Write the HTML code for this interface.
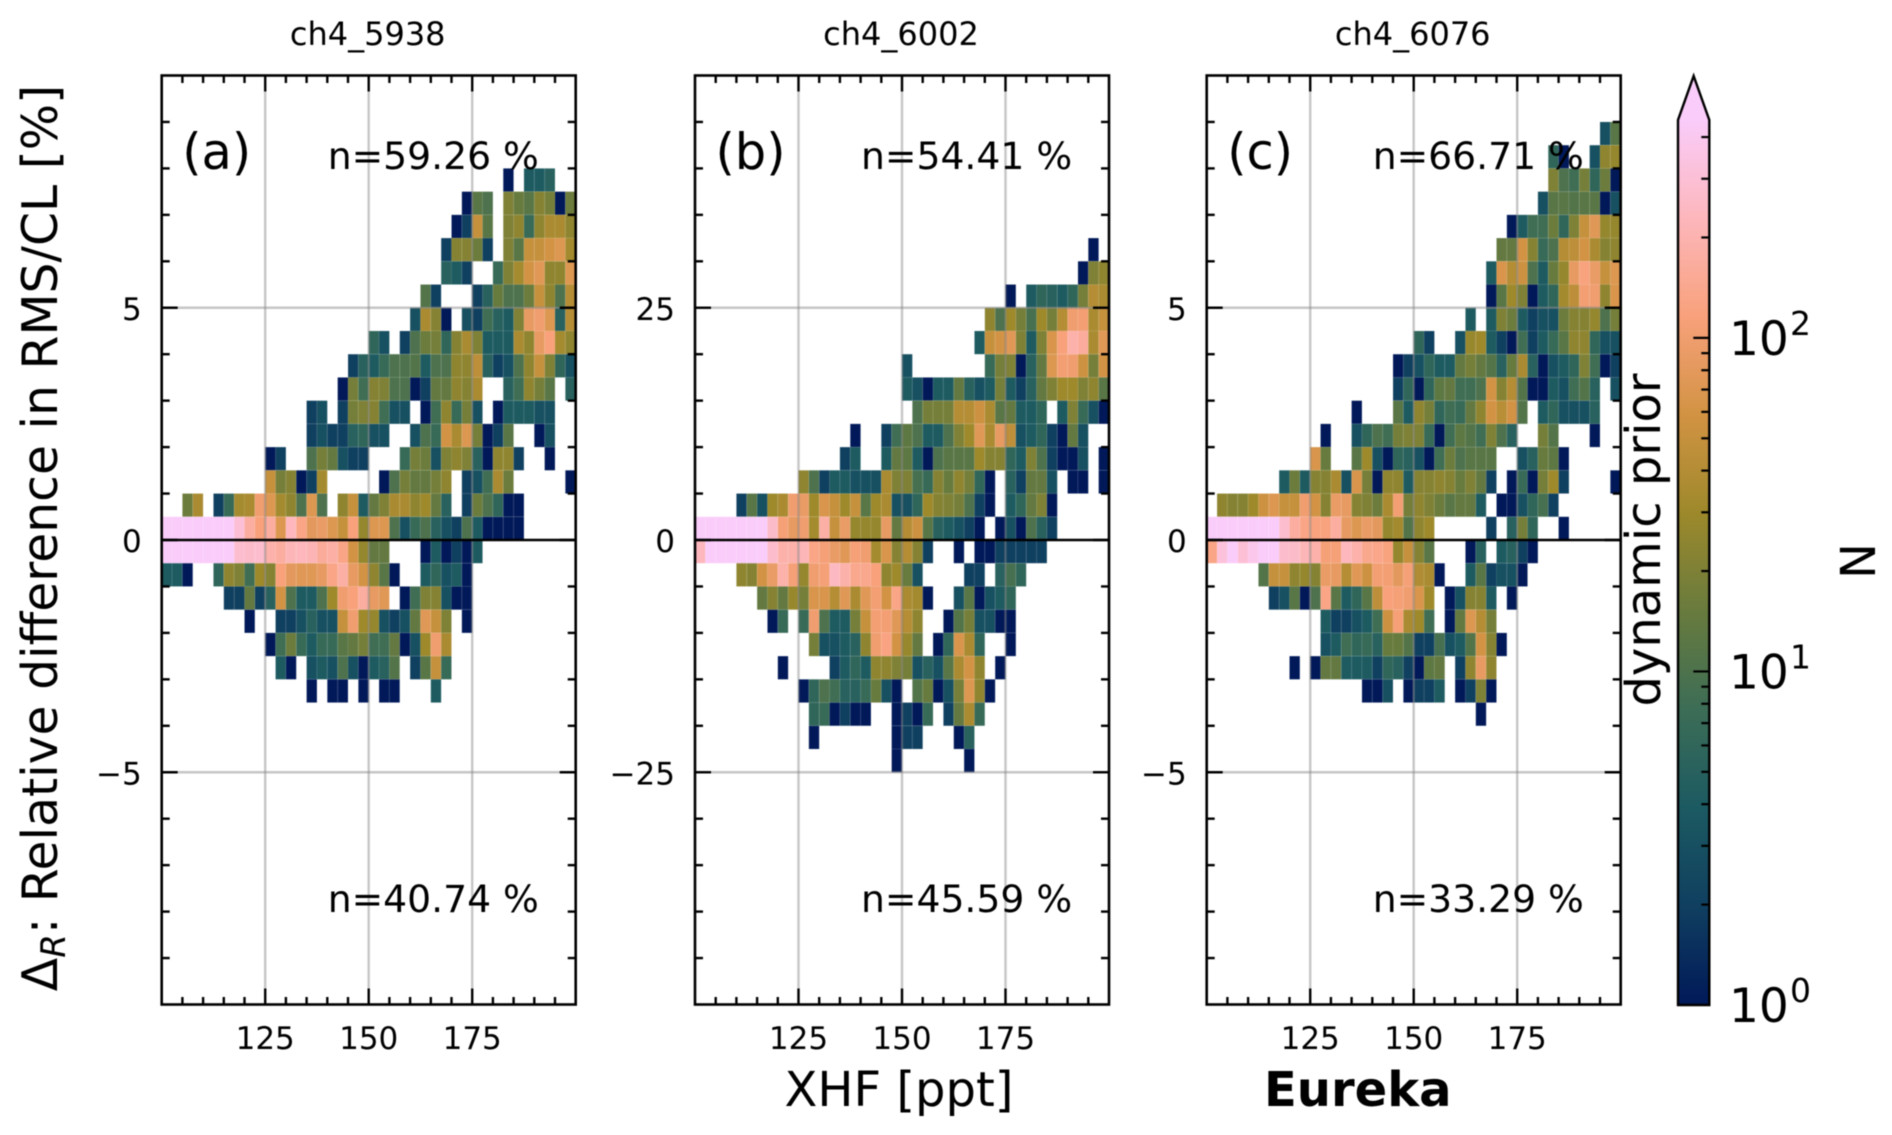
<!DOCTYPE html>
<html lang="en">
<head>
<meta charset="utf-8">
<title>Eureka XHF relative difference</title>
<style>
html,body{margin:0;padding:0;background:#fff;}
svg{display:block;font-family:"DejaVu Sans","Liberation Sans",sans-serif;filter:blur(0.5px);}
</style>
</head>
<body>
<svg id="fig" xmlns="http://www.w3.org/2000/svg" width="1892" height="1135" viewBox="0 0 1892 1135">
<rect x="0" y="0" width="1892" height="1135" fill="#fff"/>
<text x="0" y="0" transform="translate(57,538) rotate(-90)" text-anchor="middle" font-size="48.8" fill="#000" id="ylab">Δ<tspan font-size="34" font-style="italic" dy="8">R</tspan><tspan dy="-8">: Relative difference in RMS/CL [%]</tspan></text>
<text x="899" y="1106" text-anchor="middle" font-size="48" fill="#000">XHF [ppt]</text>
<text x="1264" y="1106" font-size="48" font-weight="700" fill="#000">Eureka</text>
<text transform="translate(1660,540) rotate(-90)" text-anchor="middle" font-size="48" fill="#000">dynamic prior</text>
<text transform="translate(1875,561) rotate(-90)" text-anchor="middle" font-size="48" fill="#000">N</text>
<g id="panels"></g>
<g id="cbar"></g>
</svg>
<script>
const panelTitles = ['ch4_5938', 'ch4_6002', 'ch4_6076'];
const panelLetters = ['(a)', '(b)', '(c)'];
const upperPct = ['n=59.26 %', 'n=54.41 %', 'n=66.71 %'];
const lowerPct = ['n=40.74 %', 'n=45.59 %', 'n=33.29 %'];
const yLimits = [10, 50, 10];
const yTickValues = [[-5, 0, 5], [-25, 0, 25], [-5, 0, 5]];
const yTickLabels = [['\u22125', '0', '5'], ['\u221225', '0', '25'], ['\u22125', '0', '5']];
const yMinorSteps = [1, 5, 1];
const yBinHeights = [0.5, 2.5, 0.5];
const yTopEdges = [8, 32.5, 9];
const xTickValues = [125, 150, 175];
const xTickLabels = ['125', '150', '175'];
const xMinorStep = 5;
const xMin = 100;
const xMax = 200;
const xBinWidth = 2.5;
const cbarMajor = [1, 10, 100];
const cbarMinor = [2, 3, 4, 5, 6, 7, 8, 9, 20, 30, 40, 50, 60, 70, 80, 90, 200, 300, 400];
const cbarMaxValue = 450;
const batlow = ['#011959', '#103F60', '#1C5A62', '#3C6D56', '#687B3E', '#9D892B', '#D29343', '#F8A17B', '#FDB7BC', '#FACCFA'];

const countsA = [
[0,0,0,0,0,0,0,0,0,0, 0,0,0,0,0,0,0,0,0,0, 0,0,0,0,0,0,0,0,0,0, 0,0,0,1,0,4,4,5,0,0],
[0,0,0,0,0,0,0,0,0,0, 0,0,0,0,0,0,0,0,0,0, 0,0,0,0,0,0,0,0,0,1, 12,10,0,20,15,12,22,18,1,16],
[0,0,0,0,0,0,0,0,0,0, 0,0,0,0,0,0,0,0,0,0, 0,0,0,0,0,0,0,0,1,2, 50,12,0,20,25,7,25,35,35,25],
[0,0,0,0,0,0,0,0,0,0, 0,0,0,0,0,0,0,0,0,0, 0,0,0,0,0,0,0,2,22,22, 16,2,0,20,12,50,50,60,70,32],
[0,0,0,0,0,0,0,0,0,0, 0,0,0,0,0,0,0,0,0,0, 0,0,0,0,0,0,0,5,4,2, 0,0,7,20,33,60,75,25,25,70],
[0,0,0,0,0,0,0,0,0,0, 0,0,0,0,0,0,0,0,0,0, 0,0,0,0,0,11,2,0,0,0, 2,5,15,10,10,16,50,25,10,40],
[0,0,0,0,0,0,0,0,0,0, 0,0,0,0,0,0,0,0,0,0, 0,0,0,0,3,35,22,1,0,3, 2,8,5,4,20,85,100,70,5,40],
[0,0,0,0,0,0,0,0,0,0, 0,0,0,0,0,0,0,0,0,0, 6,3,0,2,10,16,18,6,22,35, 20,4,4,4,35,25,85,115,33,25],
[0,0,0,0,0,0,0,0,0,0, 0,0,0,0,0,0,0,0,2,5, 4,7,10,10,11,4,10,10,25,25, 45,5,2,3,10,25,50,20,6,3],
[0,0,0,0,0,0,0,0,0,0, 0,0,0,0,0,0,0,1,18,8, 22,20,10,10,1,2,14,14,25,22, 35,0,0,5,8,25,18,12,0,5],
[0,0,0,0,0,0,0,0,0,0, 0,0,0,0,2,3,0,2,18,20, 22,8,3,3,0,1,8,25,7,18, 3,0,1,4,4,4,3,3,0,0],
[0,0,0,0,0,0,0,0,0,0, 0,0,0,0,2,3,2,2,5,6, 3,3,0,0,3,10,7,60,35,70, 18,1,2,12,0,0,1,3,0,0],
[0,0,0,0,0,0,0,0,0,0, 1,2,0,0,10,18,14,3,2,2, 0,0,0,7,18,16,3,20,25,20, 5,1,25,25,2,0,0,1,0,0],
[0,0,0,0,0,0,0,0,0,0, 50,18,22,1,2,33,0,0,0,0, 0,1,10,18,14,14,18,25,0,2, 3,8,35,16,0,0,0,0,0,1],
[0,0,16,35,0,2,7,33,35,100, 70,33,25,10,70,10,0,25,50,4, 14,20,35,35,25,30,14,5,0,2, 16,10,6,1,1,0,0,0,0,0],
[500,500,500,500,500,500,500,300,170,115, 170,70,230,130,80,90,70,50,115,27, 70,70,10,3,7,10,5,3,2,10, 4,1,1,1,1,0,0,0,0,0],
[500,500,500,500,500,500,500,280,260,280, 190,170,220,230,210,160,180,130,60,27, 14,14,0,0,0,1,4,1,2,1, 4,0,0,0,0,0,0,0,0,0],
[4,4,1,0,0,6,25,20,8,30, 22,115,80,75,75,85,130,180,85,60, 25,12,1,0,0,4,6,3,4,1, 0,0,0,0,0,0,0,0,0,0],
[0,0,0,0,0,0,2,2,14,2, 5,60,10,4,4,10,30,100,115,170, 85,75,0,1,8,20,22,3,1,1, 0,0,0,0,0,0,0,0,0,0],
[0,0,0,0,0,0,0,0,1,0, 0,2,2,3,5,3,3,50,100,30, 27,3,2,3,14,75,50,20,0,1, 0,0,0,0,0,0,0,0,0,0],
[0,0,0,0,0,0,0,0,0,0, 1,8,16,7,4,7,7,12,14,18, 8,8,14,1,3,30,100,35,0,0, 0,0,0,0,0,0,0,0,0,0],
[0,0,0,0,0,0,0,0,0,0, 0,4,1,0,3,4,3,10,3,1, 4,5,11,0,2,12,50,7,0,0, 0,0,0,0,0,0,0,0,0,0],
[0,0,0,0,0,0,0,0,0,0, 0,0,0,0,1,0,1,1,0,1, 0,1,1,0,0,0,4,0,0,0, 0,0,0,0,0,0,0,0,0,0]
];

const countsB = [
[0,0,0,0,0,0,0,0,0,0, 0,0,0,0,0,0,0,0,0,0, 0,0,0,0,0,0,0,0,0,0, 0,0,0,0,0,0,0,0,1,0],
[0,0,0,0,0,0,0,0,0,0, 0,0,0,0,0,0,0,0,0,0, 0,0,0,0,0,0,0,0,0,0, 0,0,0,0,0,0,0,1,20,25],
[0,0,0,0,0,0,0,0,0,0, 0,0,0,0,0,0,0,0,0,0, 0,0,0,0,0,0,0,0,0,0, 1,0,4,6,5,4,6,18,40,35],
[0,0,0,0,0,0,0,0,0,0, 0,0,0,0,0,0,0,0,0,0, 0,0,0,0,0,0,0,0,25,10, 30,18,9,30,18,40,100,105,35,50],
[0,0,0,0,0,0,0,0,0,0, 0,0,0,0,0,0,0,0,0,0, 0,0,0,0,0,0,0,4,50,60, 75,20,4,20,65,115,190,165,35,75],
[0,0,0,0,0,0,0,0,0,0, 0,0,0,0,0,0,0,0,0,0, 3,0,0,0,0,0,0,0,7,18, 20,1,5,14,70,105,100,55,18,60],
[0,0,0,0,0,0,0,0,0,0, 0,0,0,0,0,0,0,0,0,0, 4,3,1,4,4,14,5,3,4,18, 4,2,5,14,20,30,30,20,25,12],
[0,0,0,0,0,0,0,0,0,0, 0,0,0,0,0,0,0,0,0,0, 0,10,18,18,18,40,40,55,35,12, 14,4,4,6,0,4,20,7,3,1],
[0,0,0,0,0,0,0,0,0,0, 0,0,0,0,0,1,0,0,2,8, 13,10,4,4,10,20,30,75,35,85, 45,3,4,6,2,1,14,3,0,0],
[0,0,0,0,0,0,0,0,0,0, 0,0,0,0,2,4,0,0,4,14, 13,4,1,10,12,12,12,30,22,22, 6,4,20,10,2,1,1,3,0,1],
[0,0,0,0,0,0,0,0,0,0, 25,10,2,4,4,3,3,3,35,20, 20,9,7,22,15,25,18,6,1,0, 5,2,14,14,3,0,1,1,0,1],
[0,0,0,0,2,12,3,30,35,100, 90,30,65,50,30,50,12,30,35,3, 3,6,30,22,20,18,10,2,1,0, 4,6,14,20,1,0,0,0,0,0],
[500,500,500,500,500,500,500,260,110,85, 100,33,180,50,90,27,27,27,85,14, 40,55,12,5,4,3,2,1,0,1, 3,1,10,5,2,0,0,0,0,0],
[230,500,500,500,500,500,500,270,190,190, 220,130,110,90,75,110,100,33,65,22, 40,22,2,0,0,1,0,1,1,2, 2,2,2,2,0,0,0,0,0,0],
[0,0,0,0,25,22,60,90,190,110, 27,100,110,240,190,140,140,115,25,30, 15,3,0,0,0,0,2,2,0,5, 9,6,0,0,0,0,0,0,0,0],
[0,0,0,0,0,0,14,22,14,28, 18,65,65,40,75,35,75,105,60,130, 35,32,1,0,0,3,12,1,3,4, 6,0,0,0,0,0,0,0,0,0],
[0,0,0,0,0,0,0,1,7,0, 7,100,10,4,4,18,50,105,105,75, 40,25,0,0,1,11,18,3,3,1, 1,0,0,0,0,0,0,0,0,0],
[0,0,0,0,0,0,0,0,0,0, 0,18,3,3,4,5,25,100,125,60, 28,14,0,1,6,65,35,6,0,0, 1,0,0,0,0,0,0,0,0,0],
[0,0,0,0,0,0,0,0,1,0, 0,0,0,2,4,6,4,25,25,20, 18,3,5,3,12,35,60,25,0,1, 0,0,0,0,0,0,0,0,0,0],
[0,0,0,0,0,0,0,0,0,0, 1,6,10,8,5,5,7,15,3,1, 0,11,15,1,3,18,70,25,1,0, 0,0,0,0,0,0,0,0,0,0],
[0,0,0,0,0,0,0,0,0,0, 0,6,7,1,2,1,1,0,0,1, 2,1,7,0,2,14,35,7,0,0, 0,0,0,0,0,0,0,0,0,0],
[0,0,0,0,0,0,0,0,0,0, 0,1,0,0,0,0,0,0,0,1, 2,2,0,0,0,1,5,0,0,0, 0,0,0,0,0,0,0,0,0,0],
[0,0,0,0,0,0,0,0,0,0, 0,0,0,0,0,0,0,0,0,1, 0,0,0,0,0,0,1,0,0,0, 0,0,0,0,0,0,0,0,0,0]
];

const countsC = [
[0,0,0,0,0,0,0,0,0,0, 0,0,0,0,0,0,0,0,0,0, 0,0,0,0,0,0,0,0,0,0, 0,0,0,0,0,0,0,0,3,12],
[0,0,0,0,0,0,0,0,0,0, 0,0,0,0,0,0,0,0,0,0, 0,0,0,0,0,0,0,0,0,0, 0,0,0,6,1,0,0,3,25,27],
[0,0,0,0,0,0,0,0,0,0, 0,0,0,0,0,0,0,0,0,0, 0,0,0,0,0,0,0,0,0,0, 0,0,0,20,10,8,18,6,16,1],
[0,0,0,0,0,0,0,0,0,0, 0,0,0,0,0,0,0,0,0,0, 0,0,0,0,0,0,0,0,0,0, 0,0,3,12,12,11,12,12,1,3],
[0,0,0,0,0,0,0,0,0,0, 0,0,0,0,0,0,0,0,0,0, 0,0,0,0,0,0,0,0,0,1, 4,8,8,16,6,20,50,75,27,27],
[0,0,0,0,0,0,0,0,0,0, 0,0,0,0,0,0,0,0,0,0, 0,0,0,0,0,0,0,0,14,14, 60,22,7,10,40,45,60,35,22,25],
[0,0,0,0,0,0,0,0,0,0, 0,0,0,0,0,0,0,0,0,0, 0,0,0,0,0,0,0,4,65,40, 55,10,4,15,27,85,120,90,50,70],
[0,0,0,0,0,0,0,0,0,0, 0,0,0,0,0,0,0,0,0,0, 0,0,0,0,0,0,0,1,12,30, 20,1,4,6,32,45,105,100,25,65],
[0,0,0,0,0,0,0,0,0,0, 0,0,0,0,0,0,0,0,0,0, 0,0,0,0,0,4,0,4,20,16, 4,2,3,3,16,22,22,27,10,18],
[0,0,0,0,0,0,0,0,0,0, 0,0,0,0,0,0,0,0,0,0, 6,2,0,0,3,28,30,4,2,1, 8,2,4,7,12,25,25,6,3,3],
[0,0,0,0,0,0,0,0,0,0, 0,0,0,0,0,0,0,0,1,2, 3,6,4,4,14,18,14,11,5,15, 35,5,1,3,4,6,20,8,1,2],
[0,0,0,0,0,0,0,0,0,0, 0,0,0,0,0,0,0,0,2,6, 1,6,13,14,8,8,10,60,22,40, 11,1,1,4,3,8,11,5,0,3],
[0,0,0,0,0,0,0,0,0,0, 0,0,0,0,1,0,0,0,12,4, 25,18,6,8,7,14,25,60,42,60, 11,0,4,6,3,3,3,5,0,0],
[0,0,0,0,0,0,0,0,0,0, 0,1,0,0,3,6,10,8,18,20, 20,7,1,8,13,11,8,20,10,5, 0,0,18,11,0,0,0,1,0,0],
[0,0,0,0,0,0,0,0,0,0, 65,15,0,0,12,30,3,1,6,5, 3,1,8,16,10,12,12,12,0,0, 3,5,15,13,1,0,0,0,0,0],
[0,0,0,0,0,0,0,4,16,4, 22,22,35,3,65,18,1,25,25,4, 22,22,25,22,15,20,14,2,0,1, 7,1,18,30,2,0,0,0,0,1],
[0,25,22,22,30,55,70,50,50,100, 60,22,90,85,22,20,16,35,105,18, 25,20,16,12,14,14,4,0,1,1, 3,6,9,2,0,0,0,0,0,0],
[500,500,500,500,500,500,500,280,170,130, 120,120,170,85,70,90,80,27,32,11, 25,30,0,0,0,0,0,2,0,5, 18,6,0,0,1,0,0,0,0,0],
[130,320,450,300,380,480,480,270,260,220, 190,110,110,230,190,140,135,120,27,50, 22,12,0,0,0,1,5,0,4,5, 2,1,0,0,0,0,0,0,0,0],
[0,0,0,0,0,11,50,50,25,27, 22,90,85,40,75,55,105,105,80,110, 38,35,1,0,0,4,12,2,3,3, 1,0,0,0,0,0,0,0,0,0],
[0,0,0,0,0,0,2,3,12,1, 10,130,12,4,6,12,45,115,110,100, 65,30,0,1,3,22,22,4,0,1, 0,0,0,0,0,0,0,0,0,0],
[0,0,0,0,0,0,0,0,0,0, 0,4,2,2,3,4,8,55,110,35, 30,8,0,1,14,70,40,18,0,0, 0,0,0,0,0,0,0,0,0,0],
[0,0,0,0,0,0,0,0,0,0, 0,3,4,8,6,7,5,15,15,11, 2,2,9,3,4,11,60,22,1,0, 0,0,0,0,0,0,0,0,0,0],
[0,0,0,0,0,0,0,0,1,0, 1,14,14,4,4,4,2,6,5,2, 1,13,14,0,2,25,85,25,0,0, 0,0,0,0,0,0,0,0,0,0],
[0,0,0,0,0,0,0,0,0,0, 0,0,0,0,0,1,1,3,0,1, 2,2,4,0,1,2,20,1,0,0, 0,0,0,0,0,0,0,0,0,0],
[0,0,0,0,0,0,0,0,0,0, 0,0,0,0,0,0,0,0,0,0, 0,0,0,0,0,0,1,0,0,0, 0,0,0,0,0,0,0,0,0,0]
];

const panelCounts = [countsA, countsB, countsC];

const NS = 'http://www.w3.org/2000/svg';
const panelLefts = [161.7, 695, 1206.7];
const panelWidth = 414;
const plotTop = 75.5;
const plotBottom = 1004.5;
const zeroY = 540;
const halfHeight = 464.5;

function make(tag, attrs, parent) {
  const el = document.createElementNS(NS, tag);
  for (const key in attrs) el.setAttribute(key, attrs[key]);
  parent.appendChild(el);
  return el;
}
function hexRgb(h) {
  return [parseInt(h.slice(1, 3), 16), parseInt(h.slice(3, 5), 16), parseInt(h.slice(5, 7), 16)];
}
function colorFor(n) {
  const t = Math.max(0, Math.min(1, Math.log10(n) / Math.log10(cbarMaxValue)));
  const p = t * (batlow.length - 1);
  const i = Math.min(batlow.length - 2, Math.floor(p));
  const f = p - i;
  const a = hexRgb(batlow[i]);
  const b = hexRgb(batlow[i + 1]);
  return 'rgb(' + a.map((v, j) => Math.round(v + (b[j] - v) * f)).join(',') + ')';
}
function xScale(panel, v) {
  return panelLefts[panel] + (v - xMin) / (xMax - xMin) * panelWidth;
}
function yScale(panel, v) {
  return zeroY - v / yLimits[panel] * halfHeight;
}

const panelsGroup = document.getElementById('panels');

panelTitles.forEach(function (title, p) {
  const left = panelLefts[p];
  const right = left + panelWidth;
  const g = make('g', {}, panelsGroup);
  
  

  const cells = make('g', {}, g);
  
  
  const rows = panelCounts[p];
  const binH = yBinHeights[p];
  rows.forEach(function (row, r) {
    const yHigh = yTopEdges[p] - r * binH;
    row.forEach(function (n, c) {
      if (!n) return;
      const xLow = xMin + c * xBinWidth;
      const x0 = xScale(p, xLow);
      const x1 = xScale(p, xLow + xBinWidth);
      const y0 = yScale(p, yHigh);
      const y1 = yScale(p, yHigh - binH);
      const cell = make('rect', {
        x: x0.toFixed(2), y: y0.toFixed(2),
        width: (x1 - x0).toFixed(2), height: (y1 - y0).toFixed(2),
        fill: colorFor(n), stroke: '#ffffff', 'stroke-opacity': 0.1, 'stroke-width': 0.8
      }, cells);
      
      
    });
  });

  xTickValues.forEach(function (v) {
    const x = xScale(p, v);
    const line = make('line', { x1: x, x2: x, y1: plotTop, y2: plotBottom, stroke: '#808080', 'stroke-opacity': 0.45, 'stroke-width': 2.4 }, g);
    
    
  });
  yTickValues[p].forEach(function (v) {
    const y = yScale(p, v);
    const line = make('line', { x1: left, x2: right, y1: y, y2: y, stroke: v === 0 ? '#000' : '#808080', 'stroke-opacity': v === 0 ? 1 : 0.45, 'stroke-width': v === 0 ? 2.6 : 2.4 }, g);
    
    
  });

  const frame = make('rect', { x: left, y: plotTop, width: panelWidth, height: plotBottom - plotTop, fill: 'none', stroke: '#000', 'stroke-width': 2.6 }, g);
  
  

  for (let v = xMin + xMinorStep; v < xMax; v += xMinorStep) {
    const x = xScale(p, v);
    const major = xTickValues.indexOf(v) >= 0;
    const len = major ? 16 : 7.5;
    const bottomTick = make('line', { x1: x, x2: x, y1: plotBottom, y2: plotBottom - len, stroke: '#000', 'stroke-width': 2.4 }, g);
    
    
    const topTick = make('line', { x1: x, x2: x, y1: plotTop, y2: plotTop + len, stroke: '#000', 'stroke-width': 2.4 }, g);
    
    
  }
  const yStep = yMinorSteps[p];
  for (let v = -yLimits[p] + yStep; v < yLimits[p]; v += yStep) {
    const y = yScale(p, v);
    const major = yTickValues[p].indexOf(v) >= 0;
    const len = major ? 16 : 8;
    const leftTick = make('line', { x1: left, x2: left + len, y1: y, y2: y, stroke: '#000', 'stroke-width': 2.4 }, g);
    
    
    const rightTick = make('line', { x1: right, x2: right - len, y1: y, y2: y, stroke: '#000', 'stroke-width': 2.4 }, g);
    
    
  }

  xTickValues.forEach(function (v, i) {
    const label = make('text', { x: xScale(p, v), y: 1049, 'text-anchor': 'middle', 'font-size': 31, fill: '#000' }, g);
    label.textContent = xTickLabels[i];
    
    
  });
  yTickValues[p].forEach(function (v, i) {
    const label = make('text', { x: left - 20, y: yScale(p, v) + 12, 'text-anchor': 'end', 'font-size': 31, fill: '#000' }, g);
    label.textContent = yTickLabels[p][i];
    
    
  });

  const titleText = make('text', { x: left + panelWidth / 2 - 1, y: 45, 'text-anchor': 'middle', 'font-size': 32, fill: '#000' }, g);
  titleText.textContent = title;
  
  

  const letter = make('text', { x: left + 20.5, y: 169, 'font-size': 49.5, fill: '#000' }, g);
  letter.textContent = panelLetters[p];
  
  

  const upper = make('text', { x: left + 166, y: 169, 'font-size': 37.7, fill: '#000' }, g);
  upper.textContent = upperPct[p];
  
  

  const lower = make('text', { x: left + 166, y: 912, 'font-size': 37.7, fill: '#000' }, g);
  lower.textContent = lowerPct[p];
  
  
});

/* colorbar */
const cbarGroup = document.getElementById('cbar');
const cbX0 = 1678;
const cbX1 = 1709.3;
const cbTop = 120;
const cbBottom = 1005;
const cbTip = 76;
function cbY(v) {
  return cbBottom - Math.log10(v) / Math.log10(cbarMaxValue) * (cbBottom - cbTop);
}
const defs = make('defs', {}, cbarGroup);
const grad = make('linearGradient', { id: 'batlowGrad', x1: 0, y1: 1, x2: 0, y2: 0 }, defs);
batlow.forEach(function (col, i) {
  make('stop', { offset: (i / (batlow.length - 1)).toFixed(4), 'stop-color': col }, grad);
});
const cbBody = make('rect', { x: cbX0, y: cbTop, width: cbX1 - cbX0, height: cbBottom - cbTop, fill: 'url(#batlowGrad)' }, cbarGroup);


const cbTipShape = make('polygon', { points: cbX0 + ',' + cbTop + ' ' + ((cbX0 + cbX1) / 2) + ',' + cbTip + ' ' + cbX1 + ',' + cbTop, fill: batlow[batlow.length - 1] }, cbarGroup);


const cbOutline = make('polygon', { points: cbX0 + ',' + cbBottom + ' ' + cbX0 + ',' + cbTop + ' ' + ((cbX0 + cbX1) / 2) + ',' + cbTip + ' ' + cbX1 + ',' + cbTop + ' ' + cbX1 + ',' + cbBottom, fill: 'none', stroke: '#000', 'stroke-width': 2.4 }, cbarGroup);



cbarMinor.forEach(function (v) {
  const y = cbY(v);
  const tick = make('line', { x1: cbX1, x2: cbX1 - 8, y1: y, y2: y, stroke: '#000', 'stroke-width': 2.2 }, cbarGroup);
  
  
});
cbarMajor.forEach(function (v) {
  const y = cbY(v);
  if (v > 1) {
    const tick = make('line', { x1: cbX1, x2: cbX1 - 16, y1: y, y2: y, stroke: '#000', 'stroke-width': 2.2 }, cbarGroup);
    
    
  }
  const base = make('text', { x: 1729, y: y + 17, 'font-size': 47, fill: '#000' }, cbarGroup);
  base.textContent = '10';
  
  
  const exp = make('text', { x: 1790, y: y - 3, 'font-size': 33, fill: '#000' }, cbarGroup);
  exp.textContent = String(Math.round(Math.log10(v)));
  
  
});
</script>
</body>
</html>
